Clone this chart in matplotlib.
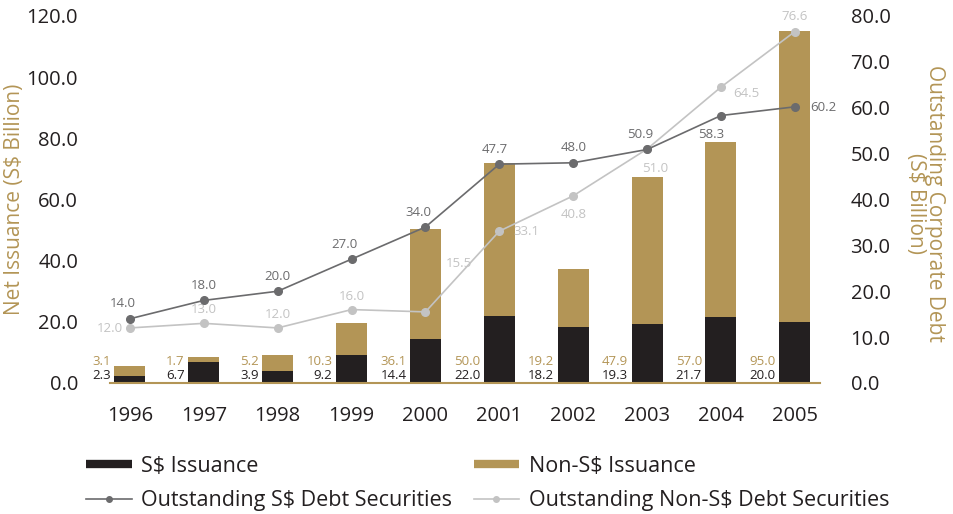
import matplotlib
matplotlib.use("Agg")
import matplotlib.pyplot as plt
from matplotlib.lines import Line2D
import numpy as np

plt.rcParams['font.family'] = ['Open Sans', 'DejaVu Sans']

years = ['1996', '1997', '1998', '1999', '2000', '2001', '2002', '2003', '2004', '2005']
sgd_issuance = [2.3, 6.7, 3.9, 9.2, 14.4, 22.0, 18.2, 19.3, 21.7, 20.0]
non_sgd_issuance = [3.1, 1.7, 5.2, 10.3, 36.1, 50.0, 19.2, 47.9, 57.0, 95.0]
out_sgd = [14.0, 18.0, 20.0, 27.0, 34.0, 47.7, 48.0, 50.9, 58.3, 60.2]
out_non_sgd = [12.0, 13.0, 12.0, 16.0, 15.5, 33.1, 40.8, 51.0, 64.5, 76.6]
left_ticks = [0, 20, 40, 60, 80, 100, 120]
right_ticks = [0, 10, 20, 30, 40, 50, 60, 70, 80]

BLACK = '#231f20'
GOLD = '#b39556'
DARK = '#6b6b6d'
LIGHT = '#c3c3c3'
TEXT = '#231f20'

fig = plt.figure(figsize=(9.54, 5.14), dpi=100)
ax = fig.add_axes([0.1153, 0.2549, 0.7442, 0.714])
ax2 = ax.twinx()

x = np.arange(len(years))
w = 0.42
ax.bar(x, sgd_issuance, w, color=BLACK, zorder=2)
ax.bar(x, non_sgd_issuance, w, bottom=sgd_issuance, color=GOLD, zorder=2)

ax.set_xlim(-0.27, 9.34)
ax.set_ylim(0, 120)
ax2.set_ylim(0, 80)
ax.set_yticks(left_ticks)
ax.set_yticklabels([f'{v:.1f}' for v in left_ticks])
ax2.set_yticks(right_ticks)
ax2.set_yticklabels([f'{v:.1f}' for v in right_ticks])
ax.set_xticks(x)
ax.set_xticklabels(years)

for a in (ax, ax2):
    for s in a.spines.values():
        s.set_visible(False)
    a.tick_params(length=0, labelsize=14.5, colors=TEXT)
ax.spines['bottom'].set_visible(True)
ax.spines['bottom'].set_color(GOLD)
ax.spines['bottom'].set_linewidth(1.5)
ax.tick_params(axis='y', pad=23)
ax.tick_params(axis='x', pad=16.5)
ax2.tick_params(axis='y', pad=22)

ax.set_ylabel('Net Issuance (S$ Billion)', color=GOLD, fontsize=15, va='center')
ax.yaxis.set_label_coords(-0.134, 0.5)
ax2.set_ylabel('Outstanding Corporate Debt\n(S$ Billion)', color=GOLD, fontsize=15,
               rotation=-90, va='center', linespacing=0.9)
ax2.yaxis.set_label_coords(1.148, 0.49)

# bar labels
for i in range(len(years)):
    ax.annotate(f'{sgd_issuance[i]:.1f}', (x[i] - w / 2, 0), xytext=(-2.5, 0.5),
                textcoords='offset points', ha='right', va='bottom', fontsize=9.5, color=TEXT)
    ax.annotate(f'{non_sgd_issuance[i]:.1f}', (x[i] - w / 2, 0), xytext=(-2.5, 10.5),
                textcoords='offset points', ha='right', va='bottom', fontsize=9.5, color=GOLD)

# lines
ax2.plot(x, out_non_sgd, color=LIGHT, lw=1.2, marker='o', ms=5.5, zorder=3)
ax2.plot(x, out_sgd, color=DARK, lw=1.2, marker='o', ms=5.5, zorder=4)

sgd_off = [(-5, 6), (0, 6), (0, 6), (-5, 6), (-5, 6), (-3, 6), (0, 6), (-5, 6), (-7, -18), (11, -5)]
sgd_ha = ['center'] * 9 + ['left']
for i, v in enumerate(out_sgd):
    ax2.annotate(f'{v:.1f}', (x[i], v), xytext=sgd_off[i], textcoords='offset points',
                 ha=sgd_ha[i], va='bottom', fontsize=9.5, color=DARK)

non_off = [(-5, -5), (0, 5), (0, 5), (0, 5), (24, 30), (10, -5), (0, -18), (6, -19), (9, -9), (0, 6)]
non_ha = ['right', 'center', 'center', 'center', 'center', 'left', 'center', 'center', 'left', 'center']
for i, v in enumerate(out_non_sgd):
    ax2.annotate(f'{v:.1f}', (x[i], v), xytext=non_off[i], textcoords='offset points',
                 ha=non_ha[i], va='bottom', fontsize=9.5, color=LIGHT)

handles = [
    Line2D([], [], color=BLACK, lw=6, solid_capstyle='butt'),
    Line2D([], [], color=DARK, lw=1.2, marker='o', ms=4),
    Line2D([], [], color=GOLD, lw=6, solid_capstyle='butt'),
    Line2D([], [], color=LIGHT, lw=1.2, marker='o', ms=4),
]
labels = ['S$ Issuance', 'Outstanding S$ Debt Securities',
          'Non-S$ Issuance', 'Outstanding Non-S$ Debt Securities']
fig.legend(handles, labels, ncol=2, loc='upper left', bbox_to_anchor=(0.0905, 0.113),
           frameon=False, fontsize=15.5,
           handlelength=2.1, handletextpad=0.45,
           columnspacing=1.0, labelspacing=0.62, labelcolor=TEXT,
           borderaxespad=0, borderpad=0)

fig.savefig('out.png', dpi=100)
